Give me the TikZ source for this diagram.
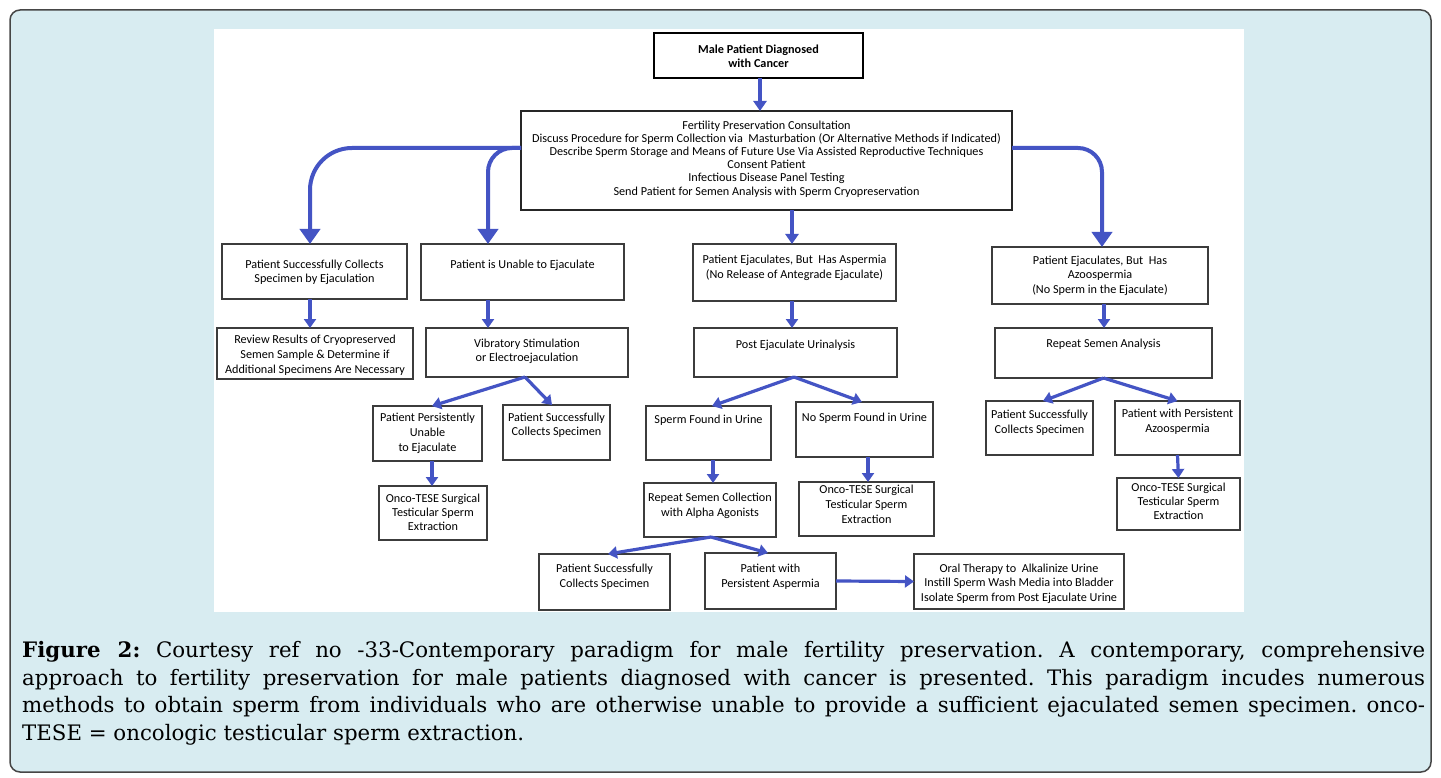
\documentclass[tikz,border=0pt]{standalone}
\usepackage{fontspec}
\setmainfont{Carlito}
\newfontfamily\capfont{DejaVu Serif}
\usetikzlibrary{arrows.meta}
\definecolor{arrblue}{RGB}{68,84,196}
\definecolor{framebg}{RGB}{216,236,241}
\definecolor{frameline}{RGB}{70,70,70}
\definecolor{boxline}{RGB}{60,60,60}
\newcommand\bt[4]{\parbox[c][#2pt][t]{#1pt}{\centering\vspace*{\dimexpr#3pt-5.3pt\relax}\rule{0pt}{9.5pt}#4\par}}
\tikzset{
  box/.style={draw=boxline, line width=1.3pt, fill=white, inner sep=0pt, outer sep=0pt, anchor=north west, font=\fontsize{12.2}{14.5}\selectfont},
  bigarr/.style={draw=arrblue, line width=4pt, -{Triangle[width=20pt,length=15pt]}},
  midarr/.style={draw=arrblue, line width=4.5pt, -{Triangle[width=13pt,length=10pt]}},
  smallarr/.style={draw=arrblue, line width=3.2pt, -{Triangle[width=12pt,length=9pt]}},
}
\begin{document}
\begin{tikzpicture}[x=1pt,y=-1pt]
\useasboundingbox (0,0) rectangle (1441,778);
% frame and white diagram area
\draw[fill=framebg, draw=frameline, line width=1.5pt, rounded corners=10pt] (10,10) rectangle (1431,772);
\fill[white] (214,29) rectangle (1244,612);

% boxes
\node[box, line width=2.8pt, draw=black, font=\bfseries\fontsize{12.2}{14}\selectfont] (top) at (654,33) {\bt{209}{45}{16}{Male Patient Diagnosed\\with Cancer}};
\node[box, line width=2pt, draw=black!85, font=\fontsize{12.2}{13.2}\selectfont] (cons) at (521,111) {\bt{491}{99}{14}{Fertility Preservation Consultation\\Discuss Procedure for Sperm Collection via\ \ Masturbation (Or Alternative Methods if Indicated)\\Describe Sperm Storage and Means of Future Use Via Assisted Reproductive Techniques\\Consent Patient\\Infectious Disease Panel Testing\\Send Patient for Semen Analysis with Sperm Cryopreservation}};

\node[box] (A1) at (222,244) {\bt{185}{55}{20}{Patient Successfully Collects\\Specimen by Ejaculation}};
\node[box] (B1) at (421,244) {\bt{203}{56}{20}{Patient is Unable to Ejaculate}};
\node[box, font=\fontsize{12.2}{15}\selectfont] (C1) at (693,244) {\bt{203}{57}{15}{Patient Ejaculates, But\ \ Has Aspermia\\(No Release of Antegrade Ejaculate)}};
\node[box] (D1) at (992,247) {\bt{216}{57}{13}{Patient Ejaculates, But\ \ Has\\Azoospermia\\(No Sperm in the Ejaculate)}};

\node[box, font=\fontsize{12.2}{15}\selectfont] (A2) at (217,328) {\bt{196}{51}{11}{Review Results of Cryopreserved\\Semen Sample \& Determine if\\Additional Specimens Are Necessary}};
\node[box, font=\fontsize{12.2}{14}\selectfont] (B2) at (426,328) {\bt{202}{49}{15}{Vibratory Stimulation\\or Electroejaculation}};
\node[box] (C2) at (694,328) {\bt{203}{49}{16}{Post Ejaculate Urinalysis}};
\node[box] (D2) at (995,328) {\bt{217}{50}{15}{Repeat Semen Analysis}};

\node[box, font=\fontsize{12.2}{15}\selectfont] (B3) at (373,406) {\bt{109}{55}{11}{Patient Persistently\\Unable\\to Ejaculate}};
\node[box, font=\fontsize{12.2}{14}\selectfont] (B4) at (503,405) {\bt{107}{55}{12}{Patient Successfully\\Collects Specimen}};
\node[box] (C3) at (646,406) {\bt{125}{54}{13}{Sperm Found in Urine}};
\node[box] (C4) at (796,402) {\bt{137}{55}{15}{No Sperm Found in Urine}};
\node[box, font=\fontsize{12.2}{15}\selectfont] (D3) at (986,401) {\bt{107}{54}{13}{Patient Successfully\\Collects Specimen}};
\node[box, font=\fontsize{12.2}{15}\selectfont] (D4) at (1115,401) {\bt{125}{54}{12}{Patient with Persistent\\Azoospermia}};

\node[box, font=\fontsize{12.2}{14}\selectfont] (B5) at (379,486) {\bt{108}{54}{12}{Onco-TESE Surgical\\Testicular Sperm\\Extraction}};
\node[box, font=\fontsize{12.2}{15}\selectfont] (C5) at (644,483) {\bt{132}{54}{14}{Repeat Semen Collection\\with Alpha Agonists}};
\node[box, font=\fontsize{12.2}{15}\selectfont] (C6) at (799,482) {\bt{135}{54}{7}{Onco-TESE Surgical\\Testicular Sperm\\Extraction}};
\node[box, font=\fontsize{12.2}{14}\selectfont] (D5) at (1117,478) {\bt{123}{52}{9}{Onco-TESE Surgical\\Testicular Sperm\\Extraction}};

\node[box, font=\fontsize{12.2}{15}\selectfont] (C7) at (539,554) {\bt{131}{56}{14}{Patient Successfully\\Collects Specimen}};
\node[box, font=\fontsize{12.2}{15}\selectfont] (C8) at (705,553) {\bt{131}{56}{15}{Patient with\\Persistent Aspermia}};
\node[box] (C9) at (914,554) {\bt{210}{55}{14}{Oral Therapy to\ \ Alkalinize Urine\\Instill Sperm Wash Media into Bladder\\Isolate Sperm from Post Ejaculate Urine}};

% connectors
\draw[midarr] ([xshift=1.5pt]top.south) -- ([xshift=-6.5pt]cons.north);
\draw[bigarr, rounded corners=42pt] ([yshift=12.5pt]cons.west) -| ([xshift=-4.5pt]A1.north);
\draw[bigarr, rounded corners=24pt] ([yshift=12.5pt]cons.west) -| ([xshift=-34.5pt]B1.north);
\draw[bigarr, rounded corners=24pt] ([yshift=12.5pt]cons.east) -| ([xshift=2pt]D1.north);
\draw[midarr] ([xshift=25.5pt]cons.south) -- ([xshift=-2.5pt]C1.north);

\draw[smallarr] ([xshift=-4.5pt]A1.south) -- ([xshift=-5pt]A2.north);
\draw[smallarr] ([xshift=-34.5pt]B1.south) -- ([xshift=-39pt]B2.north);
\draw[smallarr] ([xshift=-2.5pt]C1.south) -- ([xshift=-3.5pt]C2.north);
\draw[smallarr] ([xshift=4pt]D1.south) -- ([xshift=0.5pt]D2.north);

\draw[smallarr] ([xshift=-2pt]B2.south) -- ([xshift=4.5pt]B3.north);
\draw[smallarr] ([xshift=-2pt]B2.south) -- ([xshift=-4.5pt]B4.north);
\draw[smallarr] ([xshift=-1.5pt]C2.south) -- ([xshift=3.5pt]C3.north);
\draw[smallarr] ([xshift=-1.5pt]C2.south) -- ([xshift=-2.5pt]C4.north);
\draw[smallarr] (D2.south) -- ([xshift=3.5pt]D3.north);
\draw[smallarr] (D2.south) -- (D4.north);

\draw[smallarr] ([xshift=4.5pt]B3.south) -- ([xshift=-1pt]B5.north);
\draw[smallarr] ([xshift=4.5pt]C3.south) -- ([xshift=3pt]C5.north);
\draw[smallarr] ([xshift=3.5pt]C4.south) -- ([xshift=1.5pt]C6.north);
\draw[smallarr] (D4.south) -- (D5.north);

\draw[smallarr] ([xshift=1pt]C5.south) -- ([xshift=3.5pt]C7.north);
\draw[smallarr] ([xshift=1pt]C5.south) -- ([xshift=-2.5pt]C8.north);
\draw[smallarr] (C8.east) -- (C9.west);

% caption
\node[anchor=north west, inner sep=0pt, text width=1403pt, align=justify, font=\capfont\fontsize{21.3}{27.7}\selectfont] (cap) at (22,641) {\frenchspacing\tolerance=10000\hyphenpenalty=10000\textbf{Figure 2:} Courtesy ref no -33-Contemporary paradigm for male fertility preservation. A contemporary, comprehensive\linebreak approach to fertility preservation for male patients diagnosed with cancer is presented. This paradigm incudes numerous\linebreak methods to obtain sperm from individuals who are otherwise unable to provide a sufficient ejaculated semen specimen. onco-\linebreak TESE = oncologic testicular sperm extraction.};
\end{tikzpicture}
\end{document}
